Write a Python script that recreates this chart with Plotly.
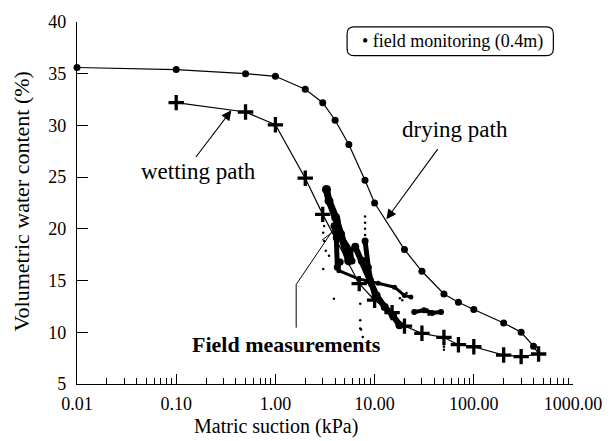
import math
import plotly.graph_objects as go

# ---------------- data ----------------
drying_suction = [0.01, 0.1, 0.5, 1.0, 2.0, 3.0, 4.0, 5.5, 8.0, 10.0, 20.0, 30.0, 50.0, 70.0, 100.0, 200.0, 300.0, 400.0]
drying_water = [35.6, 35.4, 35.0, 34.75, 33.5, 32.2, 30.5, 28.15, 24.7, 22.5, 18.0, 15.9, 13.7, 12.9, 12.2, 10.9, 10.0, 8.66]

wetting_suction = [0.1, 0.5, 1.0, 2.0, 3.0, 7.0, 10.0, 15.0, 20.0, 30.0, 50.0, 70.0, 100.0, 200.0, 300.0, 450.0]
wetting_water = [32.2, 31.3, 30.06, 24.9, 21.4, 14.7, 13.1, 11.9, 10.6, 9.9, 9.5, 8.8, 8.6, 7.8, 7.65, 7.9]

# field monitoring (0.4m) - dense bands of readings
band_a_suction = [3.27, 3.47, 4.05, 4.54, 5.08, 5.48]
band_a_water = [23.8, 22.7, 21.1, 19.5, 18.2, 16.9]
band_a2_suction = [3.9, 4.11, 4.21, 4.5]
band_a2_water = [20.3, 19.15, 16.3, 16.8]
band_a3_suction = [4.2, 4.69, 5.69, 5.92]
band_a3_water = [20.8, 19.15, 17.9, 16.9]
band_b_suction = [6.38, 7.43, 8.98, 10.47, 12.65, 15.28, 17.8]
band_b_water = [18.26, 16.92, 15.0, 13.56, 12.44, 11.64, 10.69]
band_c_suction = [8.02, 8.65, 9.34, 10.07]
band_c_water = [18.83, 16.27, 14.68, 13.4]
band_d_suction = [4.36, 6.88, 10.86, 15.9, 19.95, 23.2]
band_d_water = [15.96, 15.16, 14.74, 14.36, 13.56, 13.4]
band_f_suction = [25.1, 31.5, 38.0, 46.7]
band_f_water = [11.96, 12.12, 11.87, 11.96]
dots_suction = [8.02, 8.02, 8.02, 8.02, 3.1, 3.03, 3.1, 3.22, 3.47, 3.03, 3.89, 7.16, 7.16, 7.16, 7.3, 7.59, 50.0, 50.0, 50.0, 1035.0, 19.0, 21.0, 18.0, 35.0, 34.0]
dots_water = [21.2, 20.6, 20.0, 19.4, 20.27, 19.63, 18.83, 17.88, 17.4, 16.12, 13.25, 12.77, 11.17, 10.37, 10.28, 9.55, 9.0, 8.6, 8.3, 14.8, 13.1, 13.8, 13.3, 11.7, 12.2]

# pointer lines for "Field measurements"
pointer1_suction = [1.62, 1.62, 4.24]
pointer1_water = [10.45, 14.62, 20.55]
pointer2_suction = [2.94, 4.55]
pointer2_water = [18.9, 20.3]

x_tickvals = [0.01, 0.1, 1, 10, 100, 1000]
x_ticktext = ["0.01", "0.10", "1.00", "10.00", "100.00", "1000.00"]
y_tickvals = [5, 10, 15, 20, 25, 30, 35, 40]

# ---------------- figure ----------------
FONT = "Liberation Serif"
L, R, T, B = 77, 32, 19, 57
W, H = 614, 441
PW, PH = W - L - R, H - T - B


def px(xp):
    return (xp - L) / PW


def py(yp):
    return (H - B - yp) / PH


fig = go.Figure()

bands = [
    (band_a_suction, band_a_water, 7),
    (band_a2_suction, band_a2_water, 5),
    (band_a3_suction, band_a3_water, 5),
    (band_b_suction, band_b_water, 6),
    (band_c_suction, band_c_water, 5),
    (band_d_suction, band_d_water, 3),
    (band_f_suction, band_f_water, 4),
]
for bx, by, w in bands:
    fig.add_trace(go.Scatter(x=bx, y=by, mode="lines+markers",
                             line=dict(color="black", width=w),
                             marker=dict(color="black", size=w + 2),
                             showlegend=False, hoverinfo="skip"))

fig.add_trace(go.Scatter(x=dots_suction, y=dots_water, mode="markers",
                         marker=dict(color="black", size=2.5),
                         cliponaxis=False, showlegend=False))

fig.add_trace(go.Scatter(x=pointer1_suction, y=pointer1_water, mode="lines",
                         line=dict(color="black", width=1), showlegend=False))
fig.add_trace(go.Scatter(x=pointer2_suction, y=pointer2_water, mode="lines",
                         line=dict(color="black", width=1), showlegend=False))

fig.add_trace(go.Scatter(x=drying_suction + [wetting_suction[-1]],
                         y=drying_water + [wetting_water[-1]],
                         mode="lines", line=dict(color="black", width=1.2),
                         showlegend=False, cliponaxis=False))
fig.add_trace(go.Scatter(x=drying_suction, y=drying_water, mode="markers",
                         marker=dict(color="black", size=7, symbol="circle"),
                         showlegend=False, cliponaxis=False))

fig.add_trace(go.Scatter(x=wetting_suction, y=wetting_water, mode="lines+markers",
                         line=dict(color="black", width=1.2),
                         marker=dict(color="black", size=11, symbol="cross-thin",
                                     line=dict(color="black", width=3.3)),
                         showlegend=False, cliponaxis=False))

minor_vals = [m * 10 ** e for e in range(-2, 3) for m in range(2, 10)]

fig.update_xaxes(type="log", range=[-2, 3], showline=True, linecolor="black", linewidth=1.3,
                 tickmode="array", tickvals=x_tickvals, ticktext=x_ticktext,
                 ticks="inside", ticklen=10, tickwidth=1.2, tickcolor="black",
                 minor=dict(ticks="inside", ticklen=6, tickwidth=1, tickcolor="black",
                            tickmode="array", tickvals=minor_vals, showgrid=False),
                 showgrid=False, zeroline=False, ticklabelstandoff=3,
                 tickfont=dict(family=FONT, size=18, color="black"))
fig.update_yaxes(range=[5, 40], showline=True, linecolor="black", linewidth=1.3,
                 tickmode="array", tickvals=y_tickvals,
                 ticks="inside", ticklen=11, tickwidth=1.2, tickcolor="black",
                 showgrid=False, zeroline=False, ticklabelstandoff=6,
                 tickfont=dict(family=FONT, size=18, color="black"))

# arrows
fig.add_annotation(x=math.log10(0.36), y=31.46, ax=math.log10(0.154), ay=26.8,
                   xref="x", yref="y", axref="x", ayref="y", text="",
                   showarrow=True, arrowhead=2, arrowsize=1.8, arrowwidth=1.1, arrowcolor="black")
fig.add_annotation(x=math.log10(13.15), y=20.92, ax=math.log10(44.4), ay=27.86,
                   xref="x", yref="y", axref="x", ayref="y", text="",
                   showarrow=True, arrowhead=2, arrowsize=1.8, arrowwidth=1.1, arrowcolor="black")


def label(xp, yp, text, size, angle=0):
    fig.add_annotation(x=px(xp), y=py(yp), xref="paper", yref="paper", text=text,
                       xanchor="center", yanchor="middle", textangle=angle,
                       showarrow=False, font=dict(family=FONT, size=size, color="black"))


label(201, 170, "wetting path", 23)
label(462, 127, "drying path", 23)
label(290, 344, "<b>Field measurements</b>", 22)
label(280, 427, "Matric suction (kPa)", 20)
label(20, 200, "Volumetric water content (%)", 22, -90)

# legend box (rounded)
x0, x1 = px(352), px(562)
yt, yb = py(24), py(53)
rx, ry = 7 / PW, 7 / PH
path = (f"M {x0+rx},{yt} L {x1-rx},{yt} Q {x1},{yt} {x1},{yt-ry} L {x1},{yb+ry} "
        f"Q {x1},{yb} {x1-rx},{yb} L {x0+rx},{yb} Q {x0},{yb} {x0},{yb+ry} "
        f"L {x0},{yt-ry} Q {x0},{yt} {x0+rx},{yt} Z")
fig.add_shape(type="path", path=path, xref="paper", yref="paper",
              line=dict(color="black", width=1.2))
label(459, 38.5, "• field monitoring (0.4m)", 18)

fig.update_layout(width=W, height=H, margin=dict(l=L, r=R, t=T, b=B),
                  paper_bgcolor="white", plot_bgcolor="white", showlegend=False)

fig.write_html("out.html", config={"displayModeBar": False},
               post_script="document.body.style.margin='0';")
